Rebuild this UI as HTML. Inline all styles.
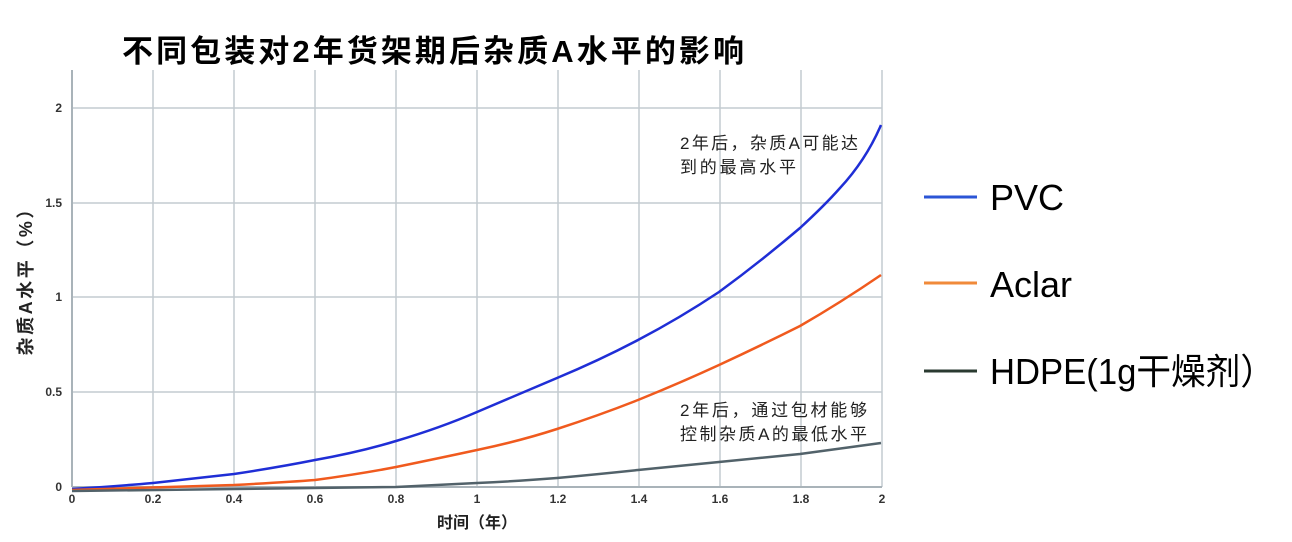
<!DOCTYPE html>
<html><head><meta charset="utf-8"><style>
body{margin:0;background:#fff;width:1292px;height:537px;overflow:hidden}
</style></head><body>
<svg width="1292" height="537" xmlns="http://www.w3.org/2000/svg" font-family="Liberation Sans, Noto Sans CJK SC, sans-serif">
<text x="122" y="62" font-size="31" font-weight="bold" fill="#000" textLength="622" lengthAdjust="spacing">不同包装对2年货架期后杂质A水平的影响</text>
<g stroke="#c3cbd0" stroke-width="1.5">
<line x1="72" y1="108" x2="882" y2="108"/><line x1="72" y1="203" x2="882" y2="203"/><line x1="72" y1="297" x2="882" y2="297"/><line x1="72" y1="392" x2="882" y2="392"/>
<line x1="153" y1="70" x2="153" y2="487"/><line x1="234" y1="70" x2="234" y2="487"/><line x1="315" y1="70" x2="315" y2="487"/><line x1="396" y1="70" x2="396" y2="487"/><line x1="477" y1="70" x2="477" y2="487"/><line x1="558" y1="70" x2="558" y2="487"/><line x1="639" y1="70" x2="639" y2="487"/><line x1="720" y1="70" x2="720" y2="487"/><line x1="801" y1="70" x2="801" y2="487"/><line x1="882" y1="70" x2="882" y2="487"/>
</g>
<g stroke="#a9b3b9" stroke-width="2"><line x1="72" y1="70" x2="72" y2="487"/><line x1="72" y1="487" x2="882" y2="487"/></g>
<g font-size="12" fill="#333" text-anchor="end" font-weight="bold">
<text x="62" y="112">2</text><text x="62" y="207">1.5</text><text x="62" y="301">1</text><text x="62" y="396">0.5</text><text x="62" y="491">0</text></g>
<g font-size="12" fill="#333" text-anchor="middle" font-weight="bold">
<text x="72" y="503">0</text><text x="153" y="503">0.2</text><text x="234" y="503">0.4</text><text x="315" y="503">0.6</text><text x="396" y="503">0.8</text><text x="477" y="503">1</text><text x="558" y="503">1.2</text><text x="639" y="503">1.4</text><text x="720" y="503">1.6</text><text x="801" y="503">1.8</text><text x="882" y="503">2</text></g>
<text x="477" y="528" font-size="16" font-weight="bold" text-anchor="middle" fill="#222">时间（年）</text>
<text transform="translate(32,278) rotate(-90)" font-size="18" font-weight="bold" text-anchor="middle" fill="#222" textLength="155" lengthAdjust="spacing">杂质A水平（%）</text>
<g fill="none" stroke-width="2.5">
<path d="M72,489 C120,486 153,483 153,483 L234,474 Q280,467 315,460 Q360,452 396,441 Q440,428 477,412 L557,378 Q600,360 638,340 Q680,318 719,292 Q760,262 800,228 Q825,205 840,188 Q866,160 881,125" stroke="#1f2ed6"/>
<path d="M72,490 L234,485 Q290,482 315,480 Q360,474 396,467 Q440,458 477,450 Q520,441 557,429 Q600,415 638,400 Q680,383 719,365 Q760,346 800,326 Q840,303 881,275" stroke="#f05a1e"/>
<path d="M72,491 L396,487 Q440,485 477,483 Q520,481 557,478 Q600,474 638,470 L719,462 L800,454 L881,443" stroke="#52626a"/>
</g>
<g font-size="17" fill="#222">
<text x="680" y="149" textLength="178" lengthAdjust="spacing">2年后，杂质A可能达</text><text x="680" y="173" textLength="116" lengthAdjust="spacing">到的最高水平</text>
<text x="680" y="416" textLength="187" lengthAdjust="spacing">2年后，通过包材能够</text><text x="680" y="440" textLength="187" lengthAdjust="spacing">控制杂质A的最低水平</text></g>
<g stroke-width="3"><line x1="924" y1="197" x2="977" y2="197" stroke="#2b55d6"/><line x1="924" y1="283" x2="977" y2="283" stroke="#f08a3a"/><line x1="924" y1="371" x2="977" y2="371" stroke="#2a3a30"/></g>
<g font-size="36" fill="#000"><text x="990" y="210">PVC</text><text x="990" y="297">Aclar</text><text x="990" y="384" textLength="285" lengthAdjust="spacingAndGlyphs">HDPE(1g干燥剂）</text></g>
</svg>
</body></html>
